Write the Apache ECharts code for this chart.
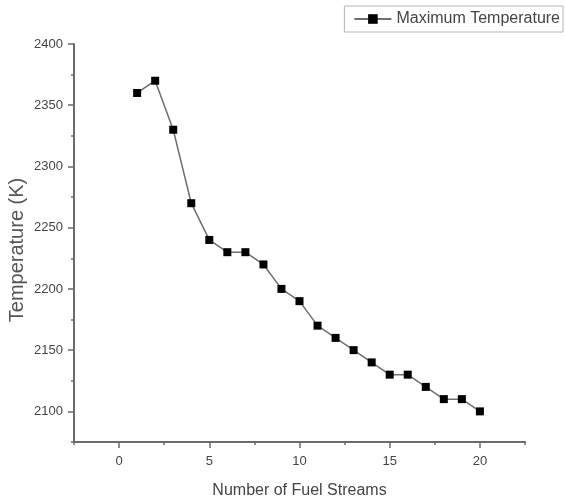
<!DOCTYPE html>
<html>
<head>
<meta charset="utf-8">
<script src="https://cdn.jsdelivr.net/npm/echarts@6/dist/echarts.min.js"></script>
<style>
  html, body { margin: 0; padding: 0; background: #fff; }
  #chart { width: 565px; height: 502px; }
</style>
</head>
<body>
<div id="chart"></div>
<script>
// data
var fuelStreams = [1, 2, 3, 4, 5, 6, 7, 8, 9, 10, 11, 12, 13, 14, 15, 16, 17, 18, 19, 20]
var maxTemperature = [2360, 2370, 2330, 2270, 2240, 2230, 2230, 2220, 2200, 2190,
  2170, 2160, 2150, 2140, 2130, 2130, 2120, 2110, 2110, 2100]
var xTicks = [0, 5, 10, 15, 20]
var yTicks = [2100, 2150, 2200, 2250, 2300, 2350, 2400]

var font = 'Liberation Sans, Arial, sans-serif'
var axisColor = '#6b6b6b'

var chart = echarts.init(document.getElementById('chart'))

chart.setOption({
  animation: false,
  textStyle: { fontFamily: font },
  grid: { left: 74, right: 40, top: 44, bottom: 60, outerBoundsMode: 'none' },
  legend: {
    right: 2,
    top: 6,
    padding: [5, 3, 5, 9],
    itemWidth: 37,
    itemHeight: 12,
    itemGap: 5,
    borderColor: '#b5b5b5',
    borderWidth: 1,
    textStyle: { fontFamily: font, fontSize: 16, color: '#444' },
    data: ['Maximum Temperature']
  },
  xAxis: [
    {
      type: 'value',
      min: -2.5,
      max: 22.5,
      interval: 2.5,
      name: 'Number of Fuel Streams',
      nameLocation: 'middle',
      nameGap: 41,
      nameTextStyle: { fontFamily: font, fontSize: 16, color: '#444' },
      splitLine: { show: false },
      axisLine: { onZero: false, lineStyle: { color: axisColor, width: 2 } },
      axisTick: {
        length: 6,
        customValues: xTicks,
        lineStyle: { color: axisColor, width: 1.5 }
      },
      axisLabel: {
        margin: 13,
        fontSize: 13,
        color: '#444',
        customValues: xTicks
      }
    },
    {
      // minor ticks
      type: 'value',
      position: 'bottom',
      min: -2.5,
      max: 22.5,
      interval: 2.5,
      splitLine: { show: false },
      axisLine: { show: false, onZero: false },
      axisTick: { length: 3, lineStyle: { color: axisColor, width: 1.5 } },
      axisLabel: { show: false }
    }
  ],
  yAxis: [
    {
      type: 'value',
      min: 2075,
      max: 2400,
      interval: 25,
      name: 'Temperature (K)',
      nameLocation: 'middle',
      nameGap: 47,
      nameMoveOverlap: false,
      nameTextStyle: { fontFamily: font, fontSize: 20, color: '#555', padding: [0, 14, 0, 0] },
      splitLine: { show: false },
      axisLine: { show: true, onZero: false, lineStyle: { color: axisColor, width: 2 } },
      axisTick: {
        show: true,
        length: 6,
        customValues: yTicks,
        lineStyle: { color: axisColor, width: 1.5 }
      },
      axisLabel: {
        margin: 11,
        fontSize: 13,
        color: '#444',
        customValues: yTicks,
        formatter: function (v) { return String(v) }
      }
    },
    {
      // minor ticks
      type: 'value',
      position: 'left',
      min: 2075,
      max: 2400,
      interval: 25,
      splitLine: { show: false },
      axisLine: { show: false, onZero: false },
      axisTick: { show: true, length: 3, lineStyle: { color: axisColor, width: 1.5 } },
      axisLabel: { show: false }
    }
  ],
  series: [
    {
      name: 'Maximum Temperature',
      type: 'line',
      data: fuelStreams.map(function (x, i) { return [x, maxTemperature[i]] }),
      symbol: 'rect',
      symbolSize: 8,
      itemStyle: { color: '#000' },
      lineStyle: { color: '#6e6e6e', width: 1.5 }
    }
  ]
})
</script>
</body>
</html>
